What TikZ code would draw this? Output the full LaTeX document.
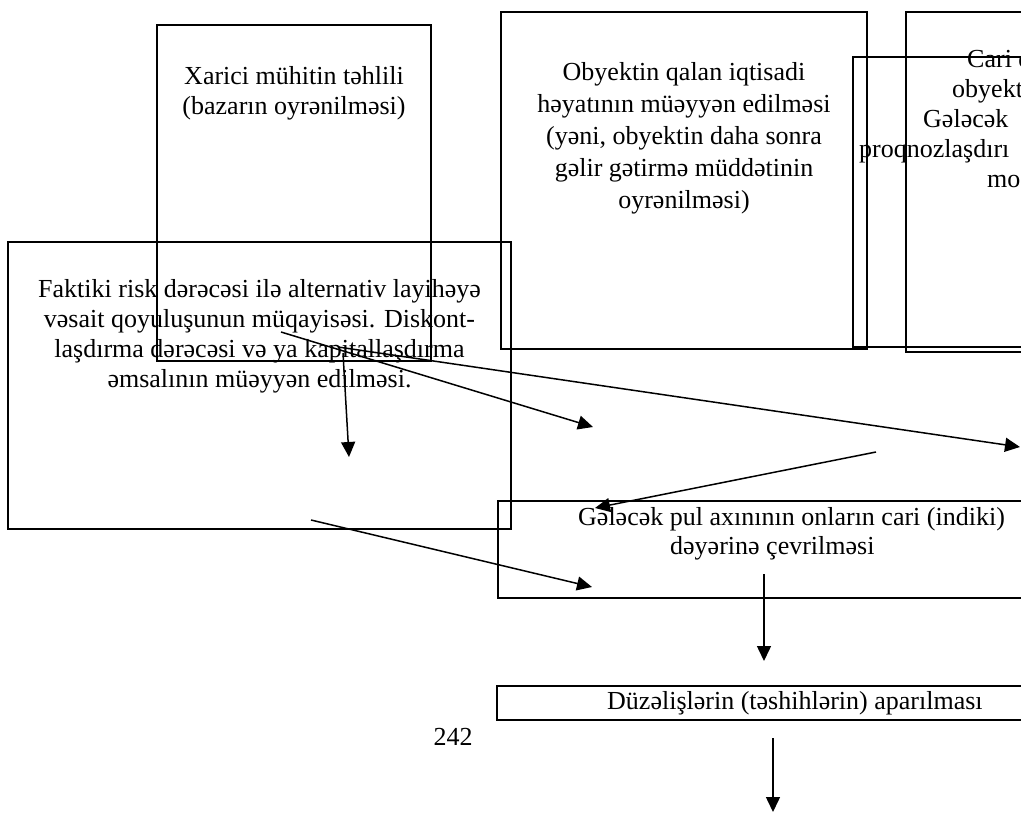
\documentclass[tikz,border=0pt]{standalone}
\usepackage{fontspec}
\setmainfont{Liberation Serif}
\usetikzlibrary{arrows.meta,positioning}

\begin{document}
\begin{tikzpicture}[x=1pt,y=-1pt,
	box/.style={draw,line width=2pt,inner sep=0pt},
	txt/.style={inner sep=0pt,align=center,anchor=north},
	piece/.style={inner sep=0pt,anchor=base west},
	arr/.style={line width=1.5pt,-{Triangle[length=15pt,width=14pt]}},
	font=\fontsize{26}{30}\selectfont]
	\useasboundingbox (0,0) rectangle (1021,813);
	\clip (0,0) rectangle (1021,813);
	% boxes
	\node[box,minimum width=274,minimum height=336] (xarici) at (294,193) {};
	\node[box,minimum width=503,minimum height=287] (faktiki) at (259.5,385.5) {};
	\node[box,minimum width=366,minimum height=337] (obyekt) at (684,180.5) {};
	\node[box,minimum width=347,minimum height=290] (cari1) at (1026.5,202) {};
	\node[box,minimum width=366,minimum height=340] (cari2) at (1089,182) {};
	\node[box,minimum width=602,minimum height=97] (gelecek) at (799,549.5) {};
	\node[box,minimum width=603,minimum height=34] (duzelis) at (798.5,703) {};
	% texts
	\node[txt] (xt) at (294,66) {Xarici mühitin təhlili\\(bazarın oyrənilməsi)};
	\node[txt] (ft) at (259.5,279) {Faktiki risk dərəcəsi ilə alternativ layihəyə\\vəsait qoyuluşunun müqayisəsi. Diskont-\\laşdırma dərəcəsi və ya kapitallaşdırma\\əmsalının müəyyən edilməsi.};
	\node[txt,font=\fontsize{26}{32}\selectfont] (ot) at (684,62) {Obyektin qalan iqtisadi\\həyatının müəyyən edilməsi\\(yəni, obyektin daha sonra\\gəlir gətirmə müddətinin\\oyrənilməsi)};
	\node[piece] (c1) at (967,68) {Cari d};
	\node[piece] (c2) at (952,98) {obyekt};
	\node[piece] (c3) at (923,128) {Gələcək};
	\node[piece] (c4) at (859,158) {proqnozlaşdırı};
	\node[piece] (c5) at (987,188) {mo};
	\node[piece] (g1) at (578,525) {Gələcək pul axınının onların cari (indiki)};
	\node[piece] (g2) at (670,554) {dəyərinə çevrilməsi};
	\node[piece] (dt) at (607,709) {Düzəlişlərin (təshihlərin) aparılması};
	\node[inner sep=0pt,anchor=base] (page) at (453,745) {242};
	% arrows
	\coordinate (a1) at (281,332);
	\coordinate (a2) at (593,427);
	\coordinate (b1) at (338,347);
	\coordinate (b2) at (1020,447);
	\coordinate (v1) at (343,353);
	\coordinate (v2) at (349,457);
	\coordinate (c1s) at (311,520);
	\coordinate (c1e) at (592,587);
	\coordinate (d1) at (876,452);
	\coordinate (d2) at (595,508);
	\coordinate (e1) at (764,574);
	\coordinate (e2) at (764,661);
	\coordinate (f1) at (773,738);
	\coordinate (f2) at (773,812);
	\draw[arr] (a1) -- (a2);
	\draw[arr] (b1) -- (b2);
	\draw[arr] (v1) -- (v2);
	\draw[arr] (c1s) -- (c1e);
	\draw[arr] (d1) -- (d2);
	\draw[arr] (e1) -- (e2);
	\draw[arr] (f1) -- (f2);
\end{tikzpicture}
\end{document}
